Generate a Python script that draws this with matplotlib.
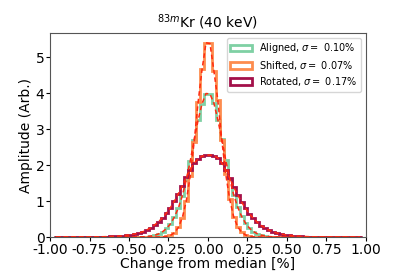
import numpy as np
import matplotlib.pyplot as plt

# bin edges: 78 bins of 0.025 from -0.975 to 0.975
edges = np.round(np.arange(-0.975, 0.9751, 0.025), 4)

# bin heights (left half from -0.975 up to 0, right half from 0 out to 0.975)
aligned_left = [0.0] * 18 + [0.001, 0.001, 0.002, 0.004, 0.008, 0.016, 0.03, 0.052, 0.09, 0.15, 0.24,
                             0.37, 0.56, 0.81, 1.15, 1.59, 2.11, 2.70, 3.25, 3.71, 3.99]
aligned_right = [3.98, 3.72, 3.26, 2.72, 2.14, 1.62, 1.18, 0.84, 0.58, 0.39,
                 0.25, 0.155, 0.095, 0.055, 0.03, 0.016, 0.008, 0.004, 0.002, 0.001] + [0.0] * 19

shifted_left = [0.0] * 25 + [0.001, 0.003, 0.008, 0.02, 0.05, 0.12, 0.27, 0.54, 1.00,
                             1.70, 2.65, 3.75, 4.66, 5.40]
shifted_right = [5.38, 4.62, 3.80, 2.70, 1.75, 1.05, 0.57, 0.29, 0.14, 0.06,
                 0.025, 0.01, 0.004, 0.002, 0.001] + [0.0] * 24

rotated_left = [0.001, 0.001, 0.001, 0.002, 0.002, 0.002, 0.003, 0.003, 0.004, 0.005,
                0.006, 0.008, 0.011, 0.014, 0.018, 0.023, 0.03, 0.04, 0.052, 0.067,
                0.088, 0.115, 0.15, 0.20, 0.26, 0.34, 0.43, 0.54, 0.67, 0.82,
                1.00, 1.21, 1.43, 1.66, 1.87, 2.05, 2.18, 2.25, 2.27]
rotated_right = [2.28, 2.26, 2.20, 2.06, 1.86, 1.64, 1.40, 1.18, 0.98, 0.80,
                 0.65, 0.52, 0.41, 0.32, 0.25, 0.19, 0.145, 0.11, 0.085, 0.065,
                 0.05, 0.038, 0.029, 0.022, 0.017, 0.013, 0.010, 0.008, 0.006, 0.005,
                 0.004, 0.003, 0.003, 0.002, 0.002, 0.002, 0.001, 0.001, 0.001]

labels = ['Aligned', 'Shifted', 'Rotated']
sigmas = [0.10, 0.07, 0.17]
series = [aligned_left + aligned_right,
          shifted_left + shifted_right,
          rotated_left + rotated_right]
colors = ['#7fd0a4', '#fd8c4e', '#a3104a']

centers = (edges[:-1] + edges[1:]) / 2

fig = plt.figure(figsize=(4.07, 2.71), dpi=100)
ax = fig.add_axes([0.123, 0.125, 0.776, 0.753])

for lab, sig, vals, col in zip(labels, sigmas, series, colors):
    ax.hist(centers, bins=edges, weights=vals, histtype='step', lw=2, color=col,
            label=r'%s, $\sigma =$ %.2f%%' % (lab, sig))
for vals in series:
    ax.plot(centers, vals, '--', color='#ff2a10', lw=1.1, dashes=(3, 2))

ax.set_xlim(-1, 1)
ax.set_xticks(np.arange(-1, 1.01, 0.25))
ax.set_xticklabels(['%.2f' % t for t in np.arange(-1, 1.01, 0.25)])
ax.tick_params(labelsize=10, length=3, pad=1)
ax.set_xlabel('Change from median [%]', fontsize=10, labelpad=0)
ax.set_ylabel('Amplitude (Arb.)', fontsize=10, labelpad=2)
ax.set_title(r'$^{83m}$Kr (40 keV)', fontsize=10, pad=4)
for s in ax.spines.values():
    s.set_color('#555555')
ax.legend(loc='upper right', fontsize=7, handlelength=2.2, borderpad=0.35,
          labelspacing=0.35, framealpha=0.8)

fig.savefig('out.png', dpi=100)
